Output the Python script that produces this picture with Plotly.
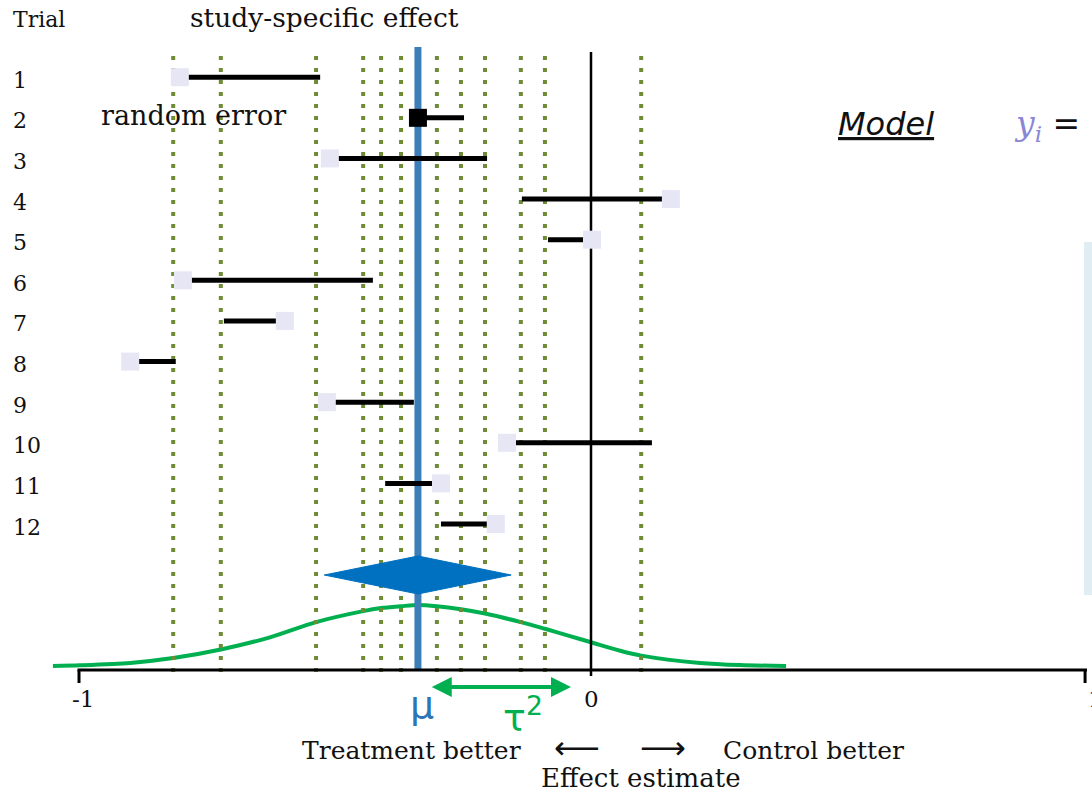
import plotly.graph_objects as go

# ---------------- data ----------------
trials = ["1", "2", "3", "4", "5", "6", "7", "8", "9", "10", "11", "12"]
trial_rows = [1, 2, 3, 4, 5, 6, 7, 8, 9, 10, 11, 12]
# observed estimate (square marker)
estimates = [-0.803, -0.338, -0.510, 0.156, 0.002, -0.797, -0.598, -0.900, -0.516, -0.164, -0.293, -0.186]
# other end of the random-error segment (study-specific effect)
segment_ends = [-0.529, -0.248, -0.203, -0.135, -0.084, -0.426, -0.717, -0.811, -0.346, 0.119, -0.402, -0.293]
# dotted vertical lines: study-specific effects
study_effects = [-0.816, -0.723, -0.537, -0.445, -0.410, -0.371, -0.301, -0.254, -0.207, -0.137, -0.090, 0.098]
highlight_trial = "2"

mu = -0.338
mu_ci = [-0.521, -0.156]
tau_arrow = [-0.314, -0.039]

# distribution of true effects (relative height)
curve_x = [-1.051, -0.998, -0.900, -0.816, -0.723, -0.627, -0.537, -0.445, -0.410, -0.371, -0.338,
           -0.301, -0.254, -0.207, -0.137, -0.090, -0.041, 0.000, 0.057, 0.098, 0.213, 0.291, 0.381]
curve_h = [0.00, 0.012, 0.05, 0.13, 0.27, 0.47, 0.72, 0.90, 0.95, 0.98, 1.00,
           0.98, 0.93, 0.86, 0.72, 0.61, 0.49, 0.39, 0.25, 0.17, 0.05, 0.015, 0.00]

tick_vals = [-1.0, 0.0, 0.965]
tick_text = ["-1", "0", "1"]

# ---------------- layout helpers ----------------
W, H = 1092, 792
X0_PX, X_SCALE = 591.0, 512.0
ROW1_PX, ROW_PX = 77.2, 40.62


def xv(p):
    return (p - X0_PX) / X_SCALE


def rv(p):
    return 1 + (p - ROW1_PX) / ROW_PX


def pxp(p):
    return p / W


def pyp(p):
    return 1 - p / H


SERIF = "DejaVu Serif"
DOT_GREEN = "#6E8B35"
BLUE_LINE = "#3B7EB8"
DIAMOND = "#0070C0"
GREEN = "#00B050"
LAVENDER = "#E6E6F5"

fig = go.Figure()

# green distribution curve
base_row = rv(666)
peak_rows = 61 / ROW_PX
fig.add_trace(go.Scatter(
    x=curve_x, y=[base_row - h * peak_rows for h in curve_h],
    mode="lines", line=dict(color=GREEN, width=4, shape="spline", smoothing=0.8),
    hoverinfo="skip", showlegend=False))

# dotted study-specific lines
for v in study_effects:
    fig.add_trace(go.Scatter(
        x=[v, v], y=[rv(56), rv(672)], mode="lines",
        line=dict(color=DOT_GREEN, width=4, dash="4px,8px"),
        hoverinfo="skip", showlegend=False))

# blue mu line
fig.add_trace(go.Scatter(
    x=[mu, mu], y=[rv(47), rv(670)], mode="lines",
    line=dict(color=BLUE_LINE, width=7), hoverinfo="skip", showlegend=False))

# diamond (pooled estimate)
dc, dh = rv(575), 19 / ROW_PX
fig.add_trace(go.Scatter(
    x=[mu_ci[0], mu, mu_ci[1], mu, mu_ci[0]],
    y=[dc, dc - dh, dc, dc + dh, dc],
    mode="lines", fill="toself", fillcolor=DIAMOND, line=dict(color=DIAMOND, width=1),
    hoverinfo="skip", showlegend=False))

# zero line
fig.add_trace(go.Scatter(
    x=[0, 0], y=[rv(52), rv(676)], mode="lines",
    line=dict(color="black", width=2.5), hoverinfo="skip", showlegend=False))

# random-error segments
seg_x, seg_y = [], []
for r, e, s in zip(trial_rows, estimates, segment_ends):
    seg_x += [e, s, None]
    seg_y += [r, r, None]
fig.add_trace(go.Scatter(
    x=seg_x, y=seg_y, mode="lines", line=dict(color="black", width=5),
    hoverinfo="skip", showlegend=False))

# squares
lx = [e for t, e in zip(trials, estimates) if t != highlight_trial]
ly = [r for t, r in zip(trials, trial_rows) if t != highlight_trial]
hx = [e for t, e in zip(trials, estimates) if t == highlight_trial]
hy = [r for t, r in zip(trials, trial_rows) if t == highlight_trial]
fig.add_trace(go.Scatter(
    x=lx, y=ly, mode="markers",
    marker=dict(symbol="square", size=18, color=LAVENDER, line=dict(width=0)),
    hoverinfo="skip", showlegend=False))
fig.add_trace(go.Scatter(
    x=hx, y=hy, mode="markers",
    marker=dict(symbol="square", size=18, color="black", line=dict(width=0)),
    hoverinfo="skip", showlegend=False))

# ---------------- shapes ----------------
axis_row = rv(670)
shapes = [
    dict(type="line", xref="x", yref="y", x0=xv(77.5), x1=xv(1087), y0=axis_row, y1=axis_row,
         line=dict(color="black", width=3)),
    dict(type="rect", xref="paper", yref="paper", x0=pxp(1084), x1=1.01, y0=pyp(242), y1=pyp(595),
         fillcolor="#E0EDF2", line=dict(width=0), layer="below"),
]
for tv in tick_vals:
    if tv != 0:
        shapes.append(dict(type="line", xref="x", yref="y", x0=tv, x1=tv, y0=axis_row, y1=rv(683),
                           line=dict(color="black", width=3)))

# ---------------- annotations ----------------
ann = []


def txt(text, x, y, size, xanchor="left", color="#111111", family=SERIF, yanchor="middle", **kw):
    ann.append(dict(text=text, x=pxp(x), y=pyp(y), xref="paper", yref="paper",
                    xanchor=xanchor, yanchor=yanchor, showarrow=False, borderpad=0,
                    font=dict(family=family, size=size, color=color), **kw))


txt("Trial", 12, 19, 22)
txt("study-specific effect", 189, 18, 26.5)
txt("random error", 100, 115, 27)
for t, r in zip(trials, trial_rows):
    ann.append(dict(text=t, x=pxp(11), y=r, xref="paper", yref="y", xanchor="left", yanchor="middle",
                    yshift=-3, showarrow=False, font=dict(family=SERIF, size=22, color="#111111")))

txt("<i><u>Model</u></i>", 837, 124, 32, family="DejaVu Sans")
txt("<i>y</i><sub><i>i</i></sub> <span style='color:#111111'>=</span>", 1013, 126, 33,
    color="#8A86D6", family=SERIF)

txt("μ", 422, 705, 38, xanchor="center", color="#2E75B6", family="DejaVu Sans")
txt("τ<sup>2</sup>", 523, 715, 38, xanchor="center", color=GREEN, family="DejaVu Sans")

for tv, tt in zip(tick_vals, tick_text):
    p = X0_PX + tv * X_SCALE
    if tt == "-1":
        p += 4
    if tt == "1":
        p += 10
    txt(tt, p, 699, 23, xanchor="center")

txt("Treatment better", 522, 750, 25, xanchor="right")
txt("⟵", 577, 748, 32, xanchor="center", family="DejaVu Sans")
txt("⟶", 663, 748, 32, xanchor="center", family="DejaVu Sans")
txt("Control better", 722, 750, 25)
txt("Effect estimate", 540, 778, 26)

# tau^2 arrow
arow = rv(687)
ann.append(dict(x=tau_arrow[1], y=arow, ax=tau_arrow[0], ay=arow, xref="x", yref="y",
                axref="x", ayref="y", text="", showarrow=True, arrowside="end+start",
                arrowhead=2, arrowsize=1, arrowwidth=4, arrowcolor=GREEN,
                standoff=0, startstandoff=0))

fig.update_layout(
    width=W, height=H, margin=dict(l=0, r=0, t=0, b=0, pad=0),
    paper_bgcolor="white", plot_bgcolor="white",
    xaxis=dict(range=[xv(0), xv(W)], visible=False, fixedrange=True),
    yaxis=dict(range=[rv(H), rv(0)], visible=False, fixedrange=True),
    shapes=shapes, annotations=ann, showlegend=False,
)

fig.write_html("out.html")
